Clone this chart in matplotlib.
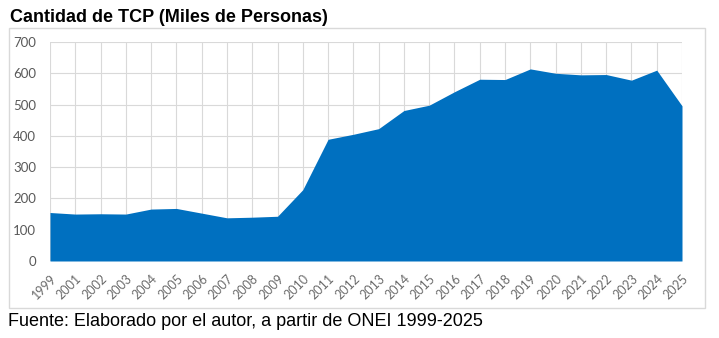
import matplotlib.pyplot as plt
from matplotlib.patches import Rectangle

years = ["1999", "2001", "2002", "2003", "2004", "2005", "2006", "2007", "2008",
         "2009", "2010", "2011", "2012", "2013", "2014", "2015", "2016", "2017",
         "2018", "2019", "2020", "2021", "2022", "2023", "2024", "2025"]
tcp = [155, 150, 151, 150, 166, 168, 153, 138, 140, 143, 228, 389, 405,
       423, 481, 498, 541, 581, 580, 614, 600, 595, 596, 578, 610, 496]

fig = plt.figure(figsize=(7.19, 3.38), dpi=100)

# chart frame
fig.patches.append(Rectangle((9 / 719, 1 - 308 / 338), (705 - 9) / 719, (308 - 28) / 338,
                             transform=fig.transFigure, fill=False,
                             edgecolor="#d9d9d9", linewidth=1))

ax = fig.add_axes([50 / 719, 1 - 261 / 338, (682 - 50) / 719, (261 - 42) / 338])
x = range(len(years))
ax.fill_between(x, tcp, 0, color="#0070c0", linewidth=0, zorder=2)

ax.set_xlim(0, len(years) - 1)
ax.set_ylim(0, 700)
ax.set_yticks(range(0, 701, 100))
ax.set_xticks(list(x))
ax.set_xticklabels(years, rotation=45, ha="right", rotation_mode="anchor")
ax.grid(True, color="#d9d9d9", linewidth=0.8, zorder=0)
ax.set_axisbelow(True)
for s in ax.spines.values():
    s.set_visible(False)
ax.tick_params(length=0, colors="#595959", labelsize=9.5)
for lab in ax.get_xticklabels() + ax.get_yticklabels():
    lab.set_fontfamily("Lato")
ax.tick_params(axis="x", pad=8, labelsize=9, colors="#6b6b6b")
ax.tick_params(axis="y", pad=10)

fig.text(10 / 719, 1 - 18 / 338, "Cantidad de TCP (Miles de Personas)",
         fontsize=13, fontweight="bold", family="Liberation Sans", va="center")
fig.text(8 / 719, 1 - 321 / 338, "Fuente: Elaborado por el autor, a partir de ONEI 1999-2025",
         fontsize=13, family="Liberation Sans", va="center")

fig.savefig("out.png", dpi=100)
